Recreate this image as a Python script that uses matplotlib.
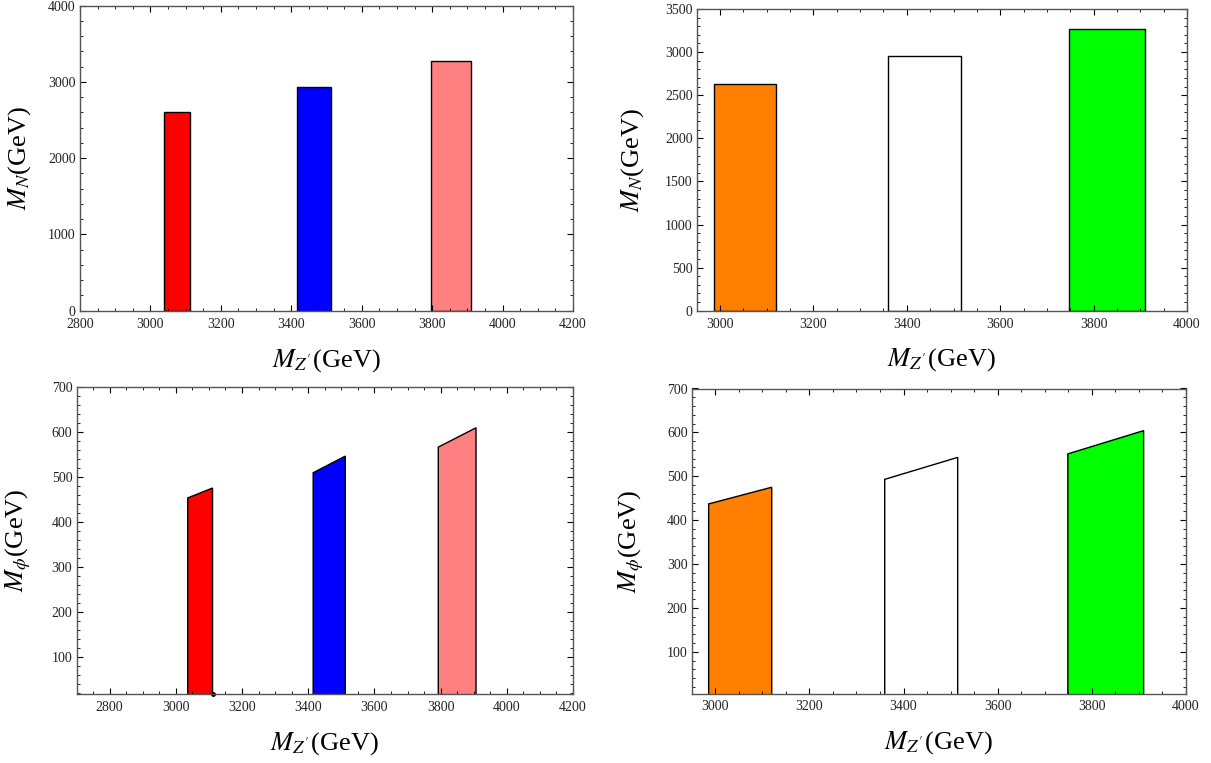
import matplotlib
matplotlib.use("Agg")
import matplotlib.pyplot as plt
from matplotlib.ticker import MultipleLocator

plt.rcParams['font.family'] = ['Liberation Serif', 'DejaVu Serif']
plt.rcParams['mathtext.fontset'] = 'stix'

# ---- data ----
# top-left: M_N vs M_Z' (rectangular regions)
tl_xlo = [3038, 3417, 3796]
tl_xhi = [3113, 3513, 3909]
tl_h = [2608, 2936, 3276]
tl_colors = ['#FF0000', '#0000FF', '#FF8080']

# top-right
tr_xlo = [2987, 3359, 3747]
tr_xhi = [3119, 3515, 3910]
tr_h = [2626, 2950, 3267]
tr_colors = ['#FF8000', '#FFFFFF', '#00FF00']

# bottom-left: M_phi vs M_Z' (trapezoids)
bl_xlo = [3036, 3415, 3793]
bl_xhi = [3111, 3512, 3907]
bl_ylo = [454, 510, 567]
bl_yhi = [476, 547, 610]

# bottom-right
br_xlo = [2986, 3360, 3749]
br_xhi = [3120, 3515, 3910]
br_ylo = [437, 493, 551]
br_yhi = [475, 543, 604]

W, H = 1211, 763
fig = plt.figure(figsize=(W / 100, H / 100), dpi=100)


def box(l, r, t, b):
    return [l / W, 1 - b / H, (r - l) / W, (b - t) / H]


axes = [
    fig.add_axes(box(80, 573, 5.5, 310.7)),
    fig.add_axes(box(696.7, 1187, 9, 310.7)),
    fig.add_axes(box(76.5, 573, 387.3, 694)),
    fig.add_axes(box(691.7, 1186, 388.5, 693.5)),
]


def style(ax, xmaj, xmin, ymaj, ymin):
    ax.xaxis.set_major_locator(MultipleLocator(xmaj))
    ax.xaxis.set_minor_locator(MultipleLocator(xmin))
    ax.yaxis.set_major_locator(MultipleLocator(ymaj))
    ax.yaxis.set_minor_locator(MultipleLocator(ymin))
    ax.tick_params(which='both', direction='in', top=True, right=True,
                   colors='black', labelcolor='#222222', labelsize=10)
    ax.tick_params(which='major', length=4.5, width=0.8)
    ax.tick_params(which='minor', length=2.5, width=0.6)
    ax.tick_params(axis='x', pad=5)
    ax.tick_params(axis='y', pad=3)
    for s in ax.spines.values():
        s.set_color('#555555')
        s.set_linewidth(1.0)


xl = r"$M_{Z^{\prime}}$(GeV)"

# top-left
ax = axes[0]
ax.bar(tl_xlo, tl_h, width=[h - l for l, h in zip(tl_xlo, tl_xhi)], align='edge',
       color=tl_colors, edgecolor='black', linewidth=1.0)
ax.set_xlim(2800, 4200)
ax.set_ylim(0, 4000)
style(ax, 200, 50, 1000, 200)
ax.set_xlabel(xl, fontsize=19)
ax.set_ylabel(r"$M_{N}$(GeV)", fontsize=19)
ax.xaxis.set_label_coords(0.5, -0.118)
ax.yaxis.set_label_coords(-0.095, 0.5)

# top-right
ax = axes[1]
ax.bar(tr_xlo, tr_h, width=[h - l for l, h in zip(tr_xlo, tr_xhi)], align='edge',
       color=tr_colors, edgecolor='black', linewidth=1.0)
ax.set_xlim(2950, 4000)
ax.set_ylim(0, 3500)
style(ax, 200, 50, 500, 100)
ax.set_xlabel(xl, fontsize=19)
ax.set_ylabel(r"$M_{N}$(GeV)", fontsize=19)
ax.xaxis.set_label_coords(0.5, -0.118)
ax.yaxis.set_label_coords(-0.103, 0.5)

# bottom-left
ax = axes[2]
for xlo, xhi, ylo, yhi, c in zip(bl_xlo, bl_xhi, bl_ylo, bl_yhi, tl_colors):
    ax.fill([xlo, xlo, xhi, xhi], [0, ylo, yhi, 0], facecolor=c,
            edgecolor='black', linewidth=1.0)
ax.plot([bl_xhi[0]], [18], 'o', color='black', markersize=2.5, clip_on=False)
ax.set_xlim(2700, 4200)
ax.set_ylim(18, 700)
style(ax, 200, 50, 100, 20)
ax.set_xlabel(xl, fontsize=19)
ax.set_ylabel(r"$M_{\phi}$(GeV)", fontsize=19)
ax.xaxis.set_label_coords(0.5, -0.118)
ax.yaxis.set_label_coords(-0.088, 0.5)

# bottom-right
ax = axes[3]
for xlo, xhi, ylo, yhi, c in zip(br_xlo, br_xhi, br_ylo, br_yhi, tr_colors):
    ax.fill([xlo, xlo, xhi, xhi], [0, ylo, yhi, 0], facecolor=c,
            edgecolor='black', linewidth=1.0)
ax.set_xlim(2950, 4000)
ax.set_ylim(5, 700)
style(ax, 200, 50, 100, 20)
ax.set_xlabel(xl, fontsize=19)
ax.set_ylabel(r"$M_{\phi}$(GeV)", fontsize=19)
ax.xaxis.set_label_coords(0.5, -0.118)
ax.yaxis.set_label_coords(-0.0925, 0.5)

fig.savefig("out.png", dpi=100)
